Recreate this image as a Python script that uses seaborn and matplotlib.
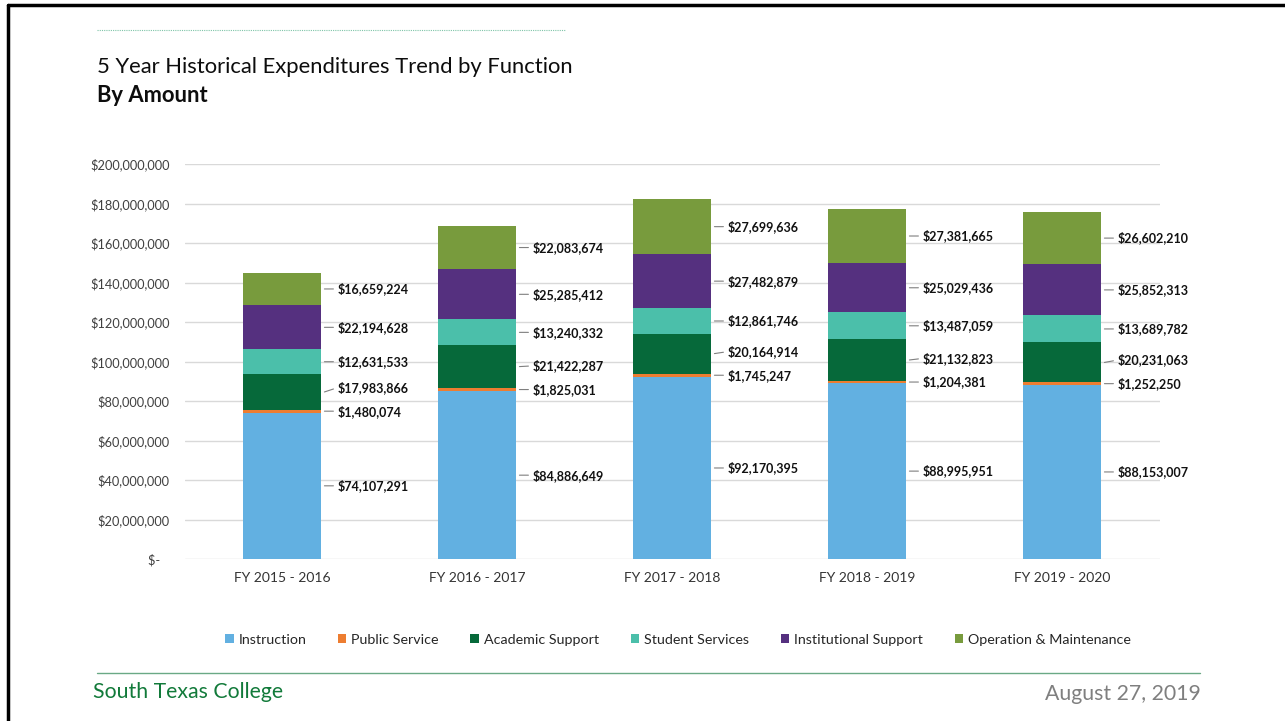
import numpy as np
import pandas as pd
import seaborn as sns
import matplotlib.pyplot as plt
from matplotlib.lines import Line2D
from matplotlib.patches import Patch
from matplotlib.ticker import FuncFormatter

# Data
years = ['FY 2015 - 2016', 'FY 2016 - 2017', 'FY 2017 - 2018', 'FY 2018 - 2019', 'FY 2019 - 2020']
functions = ['Instruction', 'Public Service', 'Academic Support', 'Student Services',
             'Institutional Support', 'Operation & Maintenance']
instruction = [74107291, 84886649, 92170395, 88995951, 88153007]
public_service = [1480074, 1825031, 1745247, 1204381, 1252250]
academic_support = [17983866, 21422287, 20164914, 21132823, 20231063]
student_services = [12631533, 13240332, 12861746, 13487059, 13689782]
institutional_support = [22194628, 25285412, 27482879, 25029436, 25852313]
operation_maintenance = [16659224, 22083674, 27699636, 27381665, 26602210]

colors = ['#62B0E1', '#ED7D31', '#06693A', '#4BBFAA', '#55307F', '#789B3D']

df = pd.DataFrame({
    'Instruction': instruction,
    'Public Service': public_service,
    'Academic Support': academic_support,
    'Student Services': student_services,
    'Institutional Support': institutional_support,
    'Operation & Maintenance': operation_maintenance,
}, index=years)

sns.set_style('white')
plt.rcParams['font.family'] = ['Lato', 'DejaVu Sans']

fig = plt.figure(figsize=(12.85, 7.21), dpi=100)
ax = fig.add_axes([185 / 1285, 1 - 559 / 721, 975 / 1285, 395 / 721])

# stacked bars: draw cumulative totals from the top layer down
cum = df.cumsum(axis=1)
for i in reversed(range(len(functions))):
    sns.barplot(x=years, y=cum[functions[i]].values, color=colors[i], width=0.4,
                saturation=1, linewidth=0, ax=ax, zorder=2)

ax.set_ylim(0, 200_000_000)
ax.set_xlim(-0.5, len(years) - 0.5)
ax.set_yticks(np.arange(0, 200_000_001, 20_000_000))
ax.yaxis.set_major_formatter(FuncFormatter(lambda v, p: '$-   ' if v == 0 else f'${v:,.0f}'))
ax.grid(axis='y', color='#D9D9D9', linewidth=1, zorder=0)
ax.set_axisbelow(True)
for s in ax.spines.values():
    s.set_visible(False)
ax.tick_params(axis='y', length=0, pad=11, labelsize=9.2, labelcolor='#404040')
ax.tick_params(axis='x', length=0, pad=9, labelsize=10, labelcolor='#333333')
ax.set_xlabel('')
ax.set_ylabel('')

# data labels with leader lines
for j, yr in enumerate(years):
    bottoms = cum.loc[yr].values - df.loc[yr].values
    centers = bottoms + df.loc[yr].values / 2
    label_y = []
    for k, c in enumerate(centers):
        y = c
        if k > 0:
            y = max(y, label_y[-1] + 12_000_000)
        label_y.append(y)
    for k, f in enumerate(functions):
        ax.annotate(f'${df.loc[yr, f]:,.0f}', xy=(j + 0.215, centers[k]),
                    xytext=(j + 0.285, label_y[k]), textcoords='data',
                    ha='left', va='center', fontsize=9, fontweight='bold', color='#111111',
                    arrowprops=dict(arrowstyle='-', color='#7f7f7f', lw=0.8,
                                    relpos=(0, 0.5), shrinkA=1, shrinkB=0))

# legend
handles = [Patch(facecolor=c, edgecolor='none') for c in colors]
fig.legend(handles, functions, loc='center', bbox_to_anchor=(678 / 1285, 1 - 640 / 721),
           ncol=6, frameon=False, handlelength=0.6, handleheight=0.6, handletextpad=0.35,
           columnspacing=2.2, fontsize=10.3, labelcolor='#262626')

# titles and slide decoration
fig.text(97 / 1285, 1 - 67 / 721, '5 Year Historical Expenditures Trend by Function',
         fontsize=15.8, color='#0d0d0d', va='center', ha='left')
fig.text(97 / 1285, 1 - 96 / 721, 'By Amount', fontsize=15.8, fontweight='bold',
         color='#0d0d0d', va='center', ha='left')
fig.add_artist(Line2D([97 / 1285, 565 / 1285], [1 - 30 / 721] * 2, color='#7fc4a8',
                      lw=0.8, linestyle=(0, (1, 1))))
fig.add_artist(Line2D([97 / 1285, 1200 / 1285], [1 - 673 / 721] * 2, color='#6aa985', lw=1))
fig.text(93 / 1285, 1 - 692 / 721, 'South Texas College', fontsize=15.3, color='#127a3a',
         va='center', ha='left')
fig.text(1201 / 1285, 1 - 694 / 721, 'August 27, 2019', fontsize=15.3, color='#7f7f7f',
         va='center', ha='right')
# slide border
fig.add_artist(Line2D([8 / 1285, 8 / 1285], [0, 1 - 5 / 721], color='black', lw=2.5))
fig.add_artist(Line2D([8 / 1285, 1], [1 - 5 / 721] * 2, color='black', lw=2.5))

fig.savefig('out.png', dpi=100)
